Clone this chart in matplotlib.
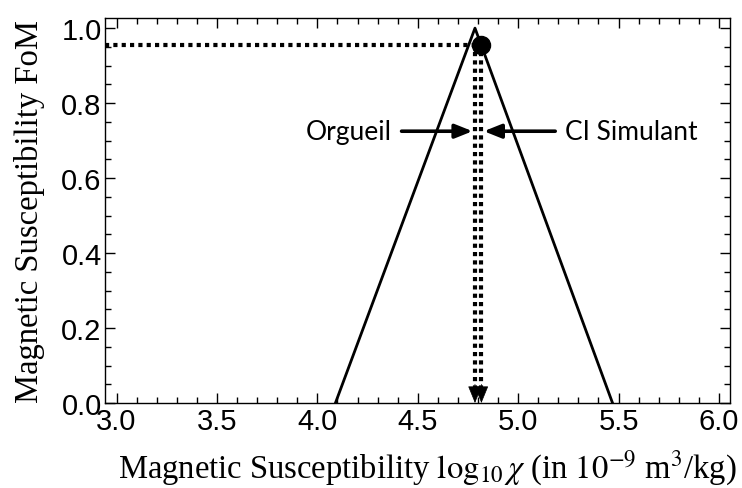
import numpy as np
import matplotlib.pyplot as plt
from matplotlib.ticker import MultipleLocator

plt.rcParams["mathtext.fontset"] = "stix"
plt.rcParams["font.family"] = ["Liberation Sans", "DejaVu Sans"]

# triangular figure of merit
fom_x = [4.09, 4.785, 5.47]
fom_y = [0.0, 1.0, 0.0]

# measured samples
orgueil_x = 4.785
simulant_x = 4.817
simulant_fom = 0.955
arrow_y = 0.725

fig = plt.figure(figsize=(7.42, 4.89), dpi=100)
ax = fig.add_axes([104.5 / 742, 1 - 404 / 489, (730 - 104.5) / 742, (404 - 19) / 489])

ax.plot(fom_x, fom_y, color="black", lw=2)

# dotted guide lines
ax.plot([2.94, simulant_x], [simulant_fom, simulant_fom], color="black", lw=3, ls=(0, (1, 1)))
for xv in (orgueil_x, simulant_x):
    ax.plot([xv, xv], [simulant_fom - 0.02, 0.04], color="black", lw=3, ls=(0, (1, 1)))
    ax.annotate("", xy=(xv, 0.0), xytext=(xv, 0.05),
                arrowprops=dict(arrowstyle="-|>,head_length=1.1,head_width=0.45", color="black", lw=0.5,
                                shrinkA=0, shrinkB=0))

ax.plot([simulant_x], [simulant_fom], "o", color="black", ms=13)

# sample labels
ann_font = dict(family=["Lato", "DejaVu Sans"], fontsize=19)
ax.annotate("Orgueil", xy=(orgueil_x - 0.012, arrow_y), xytext=(4.371, arrow_y),
            ha="right", va="center", **ann_font,
            arrowprops=dict(arrowstyle="-|>,head_length=0.55,head_width=0.22", color="black", lw=2.6,
                            shrinkA=5, shrinkB=0))
ax.annotate("CI Simulant", xy=(simulant_x + 0.012, arrow_y), xytext=(5.233, arrow_y),
            ha="left", va="center", **ann_font,
            arrowprops=dict(arrowstyle="-|>,head_length=0.55,head_width=0.22", color="black", lw=2.6,
                            shrinkA=5, shrinkB=0))

ax.set_xlim(2.94, 6.055)
ax.set_ylim(0, 1.027)
ax.xaxis.set_major_locator(MultipleLocator(0.5))
ax.xaxis.set_minor_locator(MultipleLocator(0.1))
ax.yaxis.set_major_locator(MultipleLocator(0.2))
ax.yaxis.set_minor_locator(MultipleLocator(0.05))
ax.xaxis.set_major_formatter(plt.FuncFormatter(lambda v, p: f"{v:.1f}"))
ax.yaxis.set_major_formatter(plt.FuncFormatter(lambda v, p: f"{v:.1f}"))
ax.tick_params(which="both", direction="in", top=True, right=True, width=1, labelsize=21)
ax.tick_params(which="major", length=7)
ax.tick_params(which="minor", length=4)
ax.tick_params(axis="x", pad=3)
ax.tick_params(axis="y", pad=2)
for s in ax.spines.values():
    s.set_linewidth(1)

serif = dict(family=["Liberation Serif"], fontsize=23.5)
ax.set_xlabel(r"Magnetic Susceptibility $\mathrm{log}_{10}\,\chi$ (in $10^{-9}$ m$^3$/kg)", **serif)
ax.xaxis.set_label_coords(0.516, -0.118)
ax.set_ylabel("Magnetic Susceptibility FoM", labelpad=12, **serif)

fig.savefig("out.png", dpi=100)
